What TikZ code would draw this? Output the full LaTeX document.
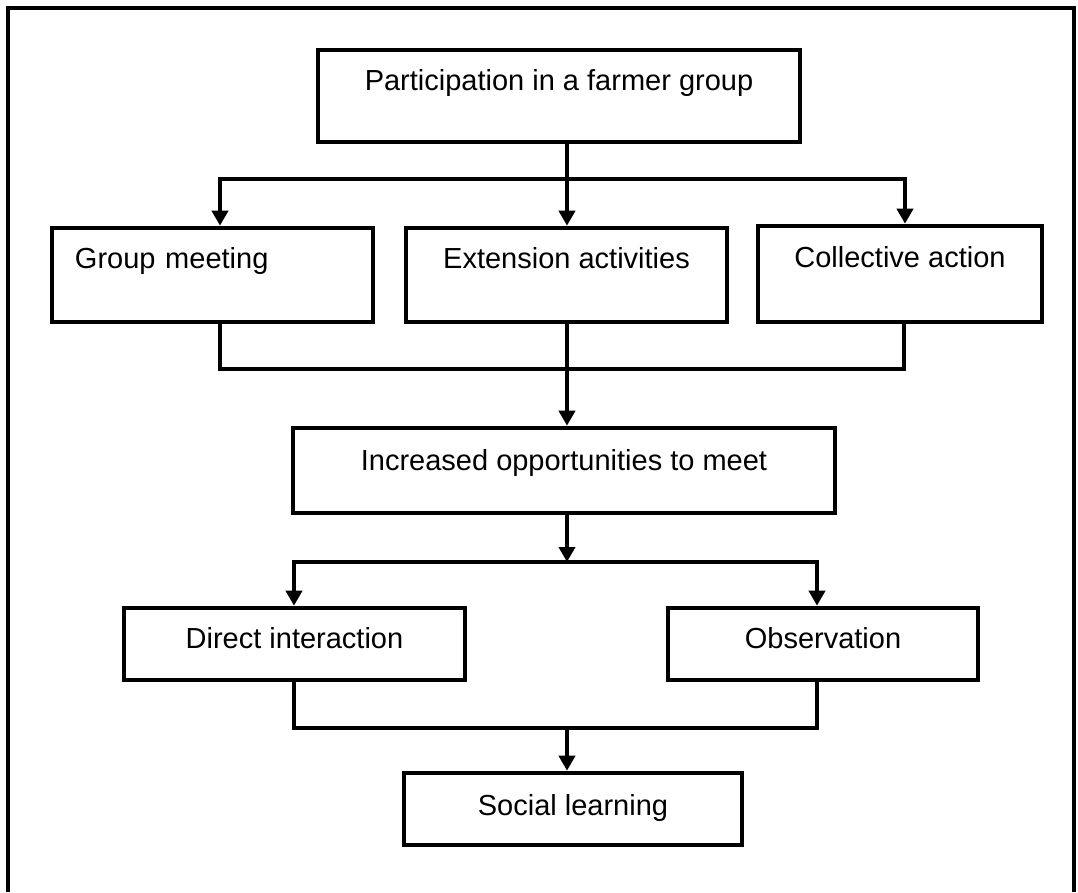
\documentclass[tikz,border=0pt]{standalone}
\usepackage{fontspec}
\setmainfont{Liberation Sans}
\usepackage{tikz}
\usetikzlibrary{calc, arrows.meta, positioning}
\newcommand{\boxfont}{\fontsize{29pt}{34pt}\selectfont}
\tikzset{
    boxnode/.style = {draw, rectangle, line width=4.6pt, inner sep=0pt, node distance=0em, 
      font=\boxfont, text height=21pt, align=center},
    wire/.style = {black, line width=4.3pt, line join=miter},
    connect/.style = {black, line width=4.3pt, line join=miter, -{Triangle[length=15pt, width=16pt]}},
    framebox/.style = {black, line width=4.6pt, line join=miter}
}

\begin{document}
\begin{tikzpicture}[x=1pt, y=1pt]
\path [use as bounding box, fill=white] (-559,-796) rectangle (519,96);
\draw [framebox] (-551,-796) -- (-551,88) -- (515,88) -- (515,-796);

\node [boxnode, name=Top, minimum width=482pt, minimum height=92pt, text depth=32.2pt] {Participation in a farmer group};

\node [boxnode, name=Group, below of=Top, xshift=-346.5pt, yshift=-179pt, minimum width=321pt, 
  minimum height=94pt, text depth=34.2pt, text width=275pt, align=left] {Group meeting};
\node [boxnode, name=Ext, below of=Top, xshift=7.5pt, yshift=-179pt, minimum width=321pt, 
  minimum height=94pt, text depth=34.2pt] {Extension activities};
\node [boxnode, name=Coll, below of=Top, xshift=341pt, yshift=-178pt, minimum width=284pt, 
  minimum height=96pt, text depth=34.2pt] {Collective action};

\node [boxnode, name=Incr, below of=Ext, xshift=-2.5pt, yshift=-195.5pt, minimum width=542pt, 
  minimum height=85pt, text depth=21.2pt] {Increased opportunities to meet};

\node [boxnode, name=Direct, below of=Incr, xshift=-269.5pt, yshift=-173.5pt, minimum width=341pt, 
  minimum height=72pt, text depth=12.2pt] {Direct interaction};
\node [boxnode, name=Obs, below of=Incr, xshift=259pt, yshift=-173.5pt, minimum width=310pt, 
  minimum height=72pt, text depth=12.2pt] {Observation};
\node [boxnode, name=Social, below of=Incr, xshift=9pt, yshift=-338.5pt, minimum width=338pt, 
  minimum height=72pt, text depth=8.2pt] {Social learning};

\coordinate (splitA) at (8,-83);
\coordinate (splitL) at (-339,-83);
\coordinate (splitR) at (346,-83);
\draw [wire] (Top.south -| splitA) -- (splitA);
\draw [connect] (splitA) -- (splitL) -- (splitL |- Group.north);
\draw [connect] (splitA) -- (splitR) -- (splitR |- Coll.north);
\draw [connect] (splitA) -- (splitA |- Ext.north);

\coordinate (joinL) at (-339,-273);
\coordinate (joinR) at (345,-273);
\draw [wire] (joinL |- Group.south) -- (joinL) -- (joinR) -- (joinR |- Coll.south);
\draw [connect] (Ext.south -| splitA) -- (splitA |- Incr.north);

\coordinate (forkA) at (8,-466);
\coordinate (forkL) at (-265,-466);
\coordinate (forkR) at (258,-466);
\draw [connect] (forkA) -- (forkL) -- (forkL |- Direct.north);
\draw [connect] (forkA) -- (forkR) -- (forkR |- Obs.north);
\draw [connect] (Incr.south -| forkA) -- (forkA);

\coordinate (meetL) at (-265,-632);
\coordinate (meetR) at (258,-632);
\draw [wire] (meetL |- Direct.south) -- (meetL) -- (meetR) -- (meetR |- Obs.south);
\draw [connect] (meetL -| forkA) -- (forkA |- Social.north);

\end{tikzpicture}
\end{document}
